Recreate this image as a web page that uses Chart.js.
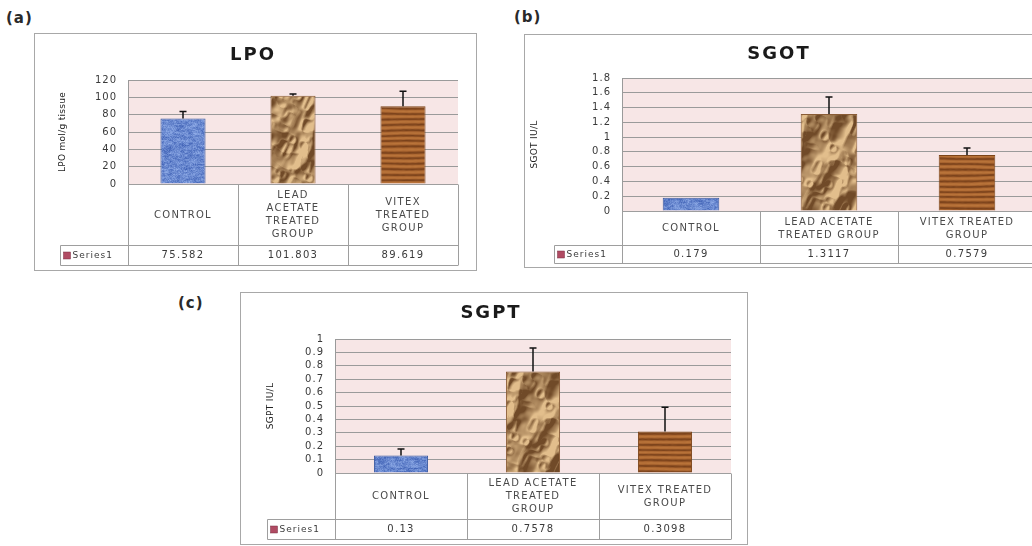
<!DOCTYPE html>
<html>
<head>
<meta charset="utf-8">
<script src="https://cdn.jsdelivr.net/npm/chart.js@4.4.1/dist/chart.umd.min.js"></script>
<style>
  body { margin: 0; width: 1032px; height: 546px; overflow: hidden; background: #fff; position: relative; }
  .box { position: absolute; border: 1px solid #a8a8a8; box-sizing: border-box; background: #fff; }
  canvas { position: absolute; }
  .tag { position: absolute; font: bold 15px "DejaVu Sans"; letter-spacing: 1px; color: #2a2a2a; }
</style>
</head>
<body>
<div class="tag" style="left:6px;top:9px">(a)</div>
<div class="tag" style="left:514px;top:8px">(b)</div>
<div class="tag" style="left:178px;top:294px">(c)</div>
<div class="box" id="boxA"></div><canvas id="LpoChart"></canvas>
<div class="box" id="boxB"></div><canvas id="SgotChart"></canvas>
<div class="box" id="boxC"></div><canvas id="SgptChart"></canvas>
<script>
// data
const lpoLabels = [["CONTROL"], ["LEAD", "ACETATE", "TREATED", "GROUP"], ["VITEX", "TREATED", "GROUP"]];
const lpoValues = [75.582, 101.803, 89.619];
const lpoErrors = [8, 2, 17.5];
const lpoTicks = [0, 20, 40, 60, 80, 100, 120];

const sgotLabels = [["CONTROL"], ["LEAD ACETATE", "TREATED GROUP"], ["VITEX TREATED", "GROUP"]];
const sgotValues = [0.179, 1.3117, 0.7579];
const sgotErrors = [0, 0.23, 0.095];
const sgotTicks = [0, 0.2, 0.4, 0.6, 0.8, 1, 1.2, 1.4, 1.6, 1.8];

const sgptLabels = [["CONTROL"], ["LEAD ACETATE", "TREATED", "GROUP"], ["VITEX TREATED", "GROUP"]];
const sgptValues = [0.13, 0.7578, 0.3098];
const sgptErrors = [0.05, 0.175, 0.18];
const sgptTicks = [0, 0.1, 0.2, 0.3, 0.4, 0.5, 0.6, 0.7, 0.8, 0.9, 1];

const seriesName = "Series1";

// panel geometry (canvas-relative offsets)
const boxA = { left: 34, top: 33, w: 443, h: 238, plotLeft: 94, plotRight: 424, plotTop: 47, catRow: 61, rowH: 20, bottomPad: 6, seriesLeft: 26, titleX: 219, titleY: 22, yTitleX: 29 };
const boxB = { left: 524, top: 34, w: 520, h: 234, plotLeft: 98, plotRight: 512, plotTop: 44, catRow: 34, rowH: 18, bottomPad: 5, seriesLeft: 30, titleX: 255, titleY: 20, yTitleX: 11 };
const boxC = { left: 240, top: 292, w: 508, h: 253, plotLeft: 95, plotRight: 491, plotTop: 47, catRow: 46, rowH: 20, bottomPad: 6, seriesLeft: 27, titleX: 251, titleY: 21, yTitleX: 31 };

const FONT = '"DejaVu Sans", sans-serif';

function hash(x, y) {
  const s = Math.sin(x * 127.1 + y * 311.7) * 43758.5453;
  return s - Math.floor(s);
}
function vnoise(x, y) {
  const xi = Math.floor(x), yi = Math.floor(y);
  const xf = x - xi, yf = y - yi;
  const u = xf * xf * (3 - 2 * xf), v = yf * yf * (3 - 2 * yf);
  const a = hash(xi, yi), b = hash(xi + 1, yi), c = hash(xi, yi + 1), d = hash(xi + 1, yi + 1);
  return a + (b - a) * u + (c - a) * v + (a - b - c + d) * u * v;
}
function ridge(x, y) {
  return 1 - Math.abs(2 * vnoise(x, y) - 1);
}
function mix(c1, c2, t) {
  t = Math.max(0, Math.min(1, t));
  return [c1[0] + (c2[0] - c1[0]) * t, c1[1] + (c2[1] - c1[1]) * t, c1[2] + (c2[2] - c1[2]) * t];
}

// excel-like fill textures
function texture(ctx, kind) {
  const W = 540, H = 260;
  const c = document.createElement("canvas");
  c.width = W; c.height = H;
  const g = c.getContext("2d");
  const img = g.createImageData(W, H);
  let hmap = null;
  if (kind === "paper") {
    hmap = new Float32Array((W + 2) * (H + 2));
    for (let y = 0; y <= H + 1; y++) {
      for (let x = 0; x <= W + 1; x++) {
        const rx = x * 0.9 + y * 0.4, ry = y * 0.9 - x * 0.4;
        hmap[y * (W + 2) + x] = 0.55 * ridge(rx / 28, ry / 36) + 0.3 * ridge(rx / 13 + 5, ry / 16 + 2) + 0.15 * ridge(rx / 6 + 9, ry / 7 + 1);
      }
    }
  }
  for (let y = 0; y < H; y++) {
    for (let x = 0; x < W; x++) {
      let col;
      if (kind === "blue") {
        const n = 0.55 * vnoise(x / 4, y / 1.6) + 0.45 * hash(x, y);
        col = mix([62, 96, 180], [148, 176, 234], n);
      } else if (kind === "paper") {
        const h0 = hmap[y * (W + 2) + x];
        const d = hmap[(y + 2) * (W + 2) + x + 2] - h0;
        const tone = 0.5 + d * 5 + (vnoise(x / 24, y / 24) - 0.5) * 0.35;
        col = mix([112, 74, 40], [226, 190, 140], tone);
      } else {
        const w = Math.sin(2 * Math.PI * (y / 5.5 + 0.3 * vnoise(x / 34, y / 11))) + 0.25 * (vnoise(x / 3, y) - 0.5);
        col = w > 0 ? mix([166, 98, 46], [196, 126, 64], w * 0.6) : mix([166, 98, 46], [112, 58, 22], -w * 0.75);
      }
      const i = (y * W + x) * 4;
      img.data[i] = col[0]; img.data[i + 1] = col[1]; img.data[i + 2] = col[2]; img.data[i + 3] = 255;
    }
  }
  g.putImageData(img, 0, 0);
  return ctx.createPattern(c, "repeat");
}

function text(ctx, s, x, y, font, color, align, spacing) {
  ctx.save();
  ctx.font = font;
  ctx.fillStyle = color;
  ctx.textAlign = align || "center";
  ctx.textBaseline = "middle";
  ctx.letterSpacing = spacing || "0px";
  ctx.fillText(s, x, y);
  ctx.restore();
}

const panelPlugin = {
  id: "panel",
  beforeDraw(chart) {
    const { ctx, chartArea: a } = chart;
    ctx.save();
    ctx.fillStyle = "#f7e6e6";
    ctx.fillRect(a.left, a.top, a.right - a.left, a.bottom - a.top);
    ctx.restore();
    ctx.letterSpacing = "1px";
  },
  afterDatasetsDraw(chart, args, opts) {
    const { ctx } = chart;
    const y = chart.scales.y;
    const meta = chart.getDatasetMeta(0);
    const vals = chart.data.datasets[0].data;
    ctx.save();
    ctx.strokeStyle = "#111";
    ctx.lineWidth = 1.5;
    meta.data.forEach((bar, i) => {
      const err = opts.errors[i];
      if (!err) return;
      const top = y.getPixelForValue(vals[i] + err);
      ctx.beginPath();
      ctx.moveTo(bar.x, bar.y);
      ctx.lineTo(bar.x, top);
      ctx.moveTo(bar.x - 3.5, top);
      ctx.lineTo(bar.x + 3.5, top);
      ctx.stroke();
    });
    ctx.restore();
  },
  afterDraw(chart, args, opts) {
    const { ctx, chartArea: a } = chart;
    const xs = chart.scales.x;
    const labels = chart.data.labels;
    const ds = chart.data.datasets[0];
    const n = labels.length;
    const cw = (a.right - a.left) / n;
    const top = Math.round(a.bottom) + 0.5;
    const mid = top + opts.catRow;
    const bot = mid + opts.rowH;
    const sl = opts.seriesLeft + 0.5;

    ctx.save();
    ctx.letterSpacing = "0px";
    ctx.strokeStyle = "#9e9e9e";
    ctx.lineWidth = 1;
    ctx.beginPath();
    ctx.moveTo(a.left, top); ctx.lineTo(a.right, top);
    ctx.moveTo(sl, mid); ctx.lineTo(a.right, mid);
    ctx.moveTo(sl, bot); ctx.lineTo(a.right, bot);
    ctx.moveTo(sl, mid); ctx.lineTo(sl, bot);
    for (let i = 0; i <= n; i++) {
      const x = Math.round(a.left + i * cw) + 0.5;
      ctx.moveTo(x, top); ctx.lineTo(x, bot);
    }
    ctx.stroke();
    ctx.restore();

    const small = "10px " + FONT;
    labels.forEach((lines, i) => {
      const cx = xs.getPixelForValue(i);
      const y0 = top + opts.catRow / 2 - (lines.length - 1) * 13 / 2;
      lines.forEach((ln, k) => text(ctx, ln, cx, y0 + k * 13, small, "#4a4a4a", "center", "1.3px"));
      text(ctx, String(ds.data[i]), cx, (mid + bot) / 2, small, "#3a3a3a", "center", "1.3px");
    });

    // legend key + series name
    ctx.save();
    ctx.fillStyle = "#b04b63";
    ctx.strokeStyle = "#7a2f42";
    ctx.lineWidth = 0.5;
    ctx.fillRect(sl + 3, (mid + bot) / 2 - 3.5, 7, 7);
    ctx.strokeRect(sl + 3, (mid + bot) / 2 - 3.5, 7, 7);
    ctx.restore();
    text(ctx, ds.label, sl + 12, (mid + bot) / 2, "9px " + FONT, "#3a3a3a", "left", "1px");

    // chart title
    text(ctx, opts.title, opts.titleX, opts.titleY, "bold 18px " + FONT, "#1a1a1a", "center", "2px");

    // value axis title
    ctx.save();
    ctx.translate(opts.yTitleX, (a.top + a.bottom) / 2);
    ctx.rotate(-Math.PI / 2);
    text(ctx, opts.yTitle, 0, 0, "9px " + FONT, "#222", "center", "0.3px");
    ctx.restore();
  }
};

function makePanel(id, boxId, box, labels, values, errors, ticks, title, yTitle) {
  const frame = document.getElementById(boxId);
  frame.style.left = box.left + "px";
  frame.style.top = box.top + "px";
  frame.style.width = box.w + "px";
  frame.style.height = box.h + "px";

  const canvas = document.getElementById(id);
  canvas.width = box.w;
  canvas.height = box.h;
  canvas.style.left = box.left + "px";
  canvas.style.top = box.top + "px";
  const ctx = canvas.getContext("2d");
  const fills = [texture(ctx, "blue"), texture(ctx, "paper"), texture(ctx, "wood")];

  return new Chart(ctx, {
    type: "bar",
    data: {
      labels: labels,
      datasets: [
        {
          label: seriesName,
          data: values,
          backgroundColor: fills,
          borderColor: ["#3b5aa0", "#8a5c36", "#7c4519"],
          borderWidth: 1,
          categoryPercentage: 1,
          barPercentage: 0.41,
        },
      ],
    },
    options: {
      responsive: false,
      animation: false,
      devicePixelRatio: 1,
      layout: {
        padding: { top: box.plotTop, right: box.w - box.plotRight, bottom: box.bottomPad, left: 0 },
      },
      plugins: {
        legend: { display: false },
        tooltip: { enabled: false },
        panel: {
          errors: errors,
          title: title,
          yTitle: yTitle,
          titleX: box.titleX,
          titleY: box.titleY,
          yTitleX: box.yTitleX,
          seriesLeft: box.seriesLeft,
          catRow: box.catRow,
          rowH: box.rowH,
        },
      },
      scales: {
        x: {
          grid: { display: false },
          border: { display: false },
          ticks: { display: false },
          afterFit(s) { s.height = box.catRow + box.rowH; },
        },
        y: {
          min: ticks[0],
          max: ticks[ticks.length - 1],
          afterBuildTicks(s) { s.ticks = ticks.map((v) => ({ value: v })); },
          afterFit(s) { s.width = box.plotLeft; },
          grid: { color: "#9a9a9a", drawTicks: false },
          border: { color: "#9a9a9a" },
          ticks: {
            autoSkip: false,
            padding: 11,
            color: "#3a3a3a",
            font: { family: FONT, size: 10 },
            callback: (v) => String(v),
          },
        },
      },
    },
    plugins: [panelPlugin],
  });
}

makePanel("LpoChart", "boxA", boxA, lpoLabels, lpoValues, lpoErrors, lpoTicks, "LPO", "LPO mol/g tissue");
makePanel("SgotChart", "boxB", boxB, sgotLabels, sgotValues, sgotErrors, sgotTicks, "SGOT", "SGOT IU/L");
makePanel("SgptChart", "boxC", boxC, sgptLabels, sgptValues, sgptErrors, sgptTicks, "SGPT", "SGPT IU/L");
</script>
</body>
</html>
